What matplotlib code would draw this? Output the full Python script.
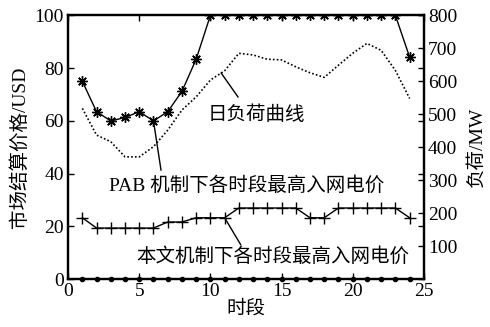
import matplotlib
matplotlib.use('Agg')
import matplotlib.pyplot as plt

plt.rcParams['font.family'] = ['Liberation Serif', 'Noto Sans CJK SC']
plt.rcParams['font.size'] = 14
plt.rcParams['axes.unicode_minus'] = False

# 时段
hours = list(range(1, 25))
# PAB 机制下各时段最高入网电价 (USD)
pab_price = [75, 63.5, 60, 61.3, 63.5, 60, 63.5, 71.2, 83.4, 100, 100, 100,
             100, 100, 100, 100, 100, 100, 100, 100, 100, 100, 100, 84.2]
# 本文机制下各时段最高入网电价 (USD)
new_price = [23.3, 19.4, 19.4, 19.4, 19.4, 19.4, 21.7, 21.7, 23.3, 23.3, 23.3, 27,
             27, 27, 27, 27, 23.3, 23.3, 27, 27, 27, 27, 27, 23.3]
# 日负荷曲线 (MW)
load = [518, 437, 417, 371, 371, 402, 452, 513, 553, 604, 632, 685,
        680, 667, 665, 644, 626, 612, 649, 685, 715, 694, 633, 548]
# 底部零值点
zero_pts = [0] * 24

fig = plt.figure(figsize=(4.9, 3.27), dpi=100)
ax = fig.add_axes([0.139, 0.146, 0.726, 0.807])
ax2 = ax.twinx()

# 星号 = + 与 x 叠加
ax.plot(hours, pab_price, color='black', lw=1, marker=(8, 2, 0), ms=7.5, mew=1)
ax.plot(hours, new_price, color='black', lw=1, marker='+', ms=8, mew=1)
ax.plot(hours, zero_pts, color='black', lw=0, marker='o', ms=3, clip_on=False)
ax2.plot(hours, load, color='black', lw=1.2, ls=(0, (1, 1.3)))

ax.set_xlim(0, 25)
ax.set_ylim(0, 100)
ax2.set_ylim(0, 800)
ax.set_xticks([0, 5, 10, 15, 20, 25])
ax.set_yticks([0, 20, 40, 60, 80, 100])
ax2.set_yticks([100, 200, 300, 400, 500, 600, 700, 800])

ax.tick_params(direction='in', length=4, width=1, top=True, right=True, pad=3)
ax2.tick_params(direction='in', length=4, width=1, pad=3)
for a in (ax, ax2):
    for s in a.spines.values():
        s.set_linewidth(1.6)

ax.set_xlabel('时段', labelpad=0)
ax.set_ylabel('市场结算价格/USD', labelpad=4)
ax2.set_ylabel('负荷/MW', labelpad=8)

ax.annotate('', xy=(10.75, 78.2), xytext=(11.95, 69),
            arrowprops=dict(arrowstyle='-', lw=1, color='black', shrinkA=0, shrinkB=0))
ax.text(13.25, 62.2, '日负荷曲线', ha='center', va='center')
ax.annotate('', xy=(6, 60), xytext=(6.53, 41.3),
            arrowprops=dict(arrowstyle='-', lw=1, color='black', shrinkA=0, shrinkB=0))
ax.text(12.55, 35.7, 'PAB 机制下各时段最高入网电价', ha='center', va='center')
ax.annotate('', xy=(11, 23.3), xytext=(12.14, 13),
            arrowprops=dict(arrowstyle='-', lw=1, color='black', shrinkA=0, shrinkB=0))
ax.text(14.4, 8.8, '本文机制下各时段最高入网电价', ha='center', va='center')

fig.savefig('out.png', dpi=100)
